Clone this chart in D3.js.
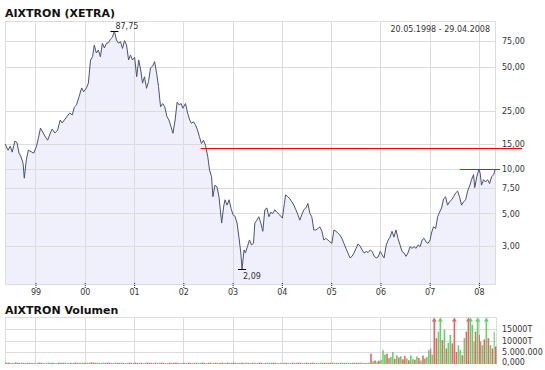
<!DOCTYPE html>
<html>
<head>
<meta charset="utf-8">
<script src="https://cdn.jsdelivr.net/npm/d3@7"></script>
<style>
  body { margin: 0; background: #fff; }
  svg { display: block; font-family: "DejaVu Sans", Verdana, sans-serif; }
  .grid line, .frame { stroke: #dcdcdc; stroke-width: 1; fill: none; shape-rendering: crispEdges; }
  .axis text { font-size: 8px; fill: #333; }
  .title { font-size: 11px; font-weight: bold; fill: #111; }
</style>
</head>
<body>
<div id="chart"></div>
<script>
// *********************************************
// DATA
// *********************************************

var dates = [
  "1998-05-20","1998-06-12","1998-06-28","1998-07-12","1998-08-02","1998-08-17","1998-09-01","1998-09-15","1998-10-01","1998-10-10","1998-10-25","1998-11-09","1998-11-29","1998-12-19",
  "1999-01-08","1999-01-23","1999-02-07","1999-02-27","1999-03-16","1999-04-01","1999-04-21","1999-05-05","1999-05-25","1999-06-14","1999-07-03","1999-07-18","1999-08-03","1999-08-22","1999-09-11","1999-10-01","1999-10-16","1999-11-01","1999-11-20","1999-12-09","1999-12-24",
  "2000-01-14","2000-01-28","2000-02-13","2000-02-28","2000-03-12","2000-03-27","2000-04-11","2000-04-26","2000-05-11","2000-05-26","2000-06-10","2000-06-25","2000-07-09","2000-07-24","2000-08-08","2000-08-23","2000-09-07","2000-09-22","2000-10-07","2000-10-22","2000-11-06","2000-11-21","2000-12-05","2000-12-20",
  "2001-01-05","2001-01-20","2001-02-04","2001-02-19","2001-03-04","2001-03-19","2001-04-03","2001-04-18","2001-05-03","2001-05-18","2001-06-02","2001-06-17","2001-07-01","2001-07-16","2001-08-01","2001-08-16","2001-09-01","2001-09-16","2001-10-01","2001-10-16","2001-11-01","2001-11-16","2001-12-01","2001-12-16","2001-12-28",
  "2002-01-17","2002-02-02","2002-02-17","2002-03-02","2002-03-17","2002-04-01","2002-04-16","2002-04-30","2002-05-15","2002-05-30","2002-06-14","2002-07-01","2002-07-14","2002-07-29","2002-08-08","2002-08-23","2002-09-07","2002-09-22","2002-10-02","2002-10-12","2002-10-27","2002-11-06","2002-11-21","2002-12-06","2002-12-21",
  "2003-01-04","2003-01-18","2003-02-03","2003-02-17","2003-03-03","2003-03-12","2003-03-27","2003-04-06","2003-04-21","2003-05-06","2003-05-21","2003-06-05","2003-06-15","2003-06-30","2003-07-14","2003-07-29","2003-08-13","2003-08-28","2003-09-12","2003-09-27","2003-10-11","2003-10-26","2003-11-10","2003-11-25","2003-12-15",
  "2004-01-05","2004-01-20","2004-01-29","2004-02-14","2004-03-01","2004-03-15","2004-03-30","2004-04-14","2004-04-29","2004-05-13","2004-05-28","2004-06-12","2004-06-27","2004-07-12","2004-07-27","2004-08-10","2004-08-25","2004-09-09","2004-09-24","2004-10-09","2004-10-24","2004-11-07","2004-11-22","2004-12-07","2004-12-22",
  "2005-01-06","2005-01-21","2005-02-05","2005-02-19","2005-03-06","2005-03-21","2005-04-05","2005-04-20","2005-05-05","2005-05-20","2005-06-04","2005-06-19","2005-07-04","2005-07-19","2005-08-03","2005-08-18","2005-09-02","2005-09-17","2005-10-02","2005-10-17","2005-11-01","2005-11-16","2005-12-01","2005-12-14","2005-12-30",
  "2006-01-14","2006-01-28","2006-02-13","2006-02-28","2006-03-13","2006-03-28","2006-04-11","2006-04-26","2006-05-11","2006-05-26","2006-06-10","2006-06-25","2006-07-09","2006-07-24","2006-08-08","2006-08-23","2006-09-07","2006-09-22","2006-10-07","2006-10-22","2006-11-06","2006-11-21","2006-12-05","2006-12-20",
  "2007-01-04","2007-01-14","2007-01-29","2007-02-14","2007-03-01","2007-03-15","2007-03-30","2007-04-14","2007-04-29","2007-05-13","2007-05-28","2007-06-12","2007-06-27","2007-07-12","2007-07-27","2007-08-10","2007-08-25","2007-09-09","2007-09-24","2007-10-09","2007-10-24","2007-11-07","2007-11-22","2007-12-01","2007-12-16",
  "2008-01-01","2008-01-10","2008-01-20","2008-02-04","2008-02-19","2008-03-05","2008-03-20","2008-04-04","2008-04-19","2008-04-29"
];

// closing prices in EUR
var prices = [
  14.9,13.5,14.4,13.1,15.6,15.2,12.9,12.2,11.0,8.7,11.6,13.5,13.2,12.9,
  14.3,16.4,19.1,17.7,16.6,15.8,17.7,18.8,17.7,18.5,21.7,20.7,21.7,22.9,24.2,23.5,26.6,27.5,31.3,35.9,33.8,
  35.9,38.8,55.7,58.6,70.4,62.1,65.1,58.6,72.4,67.2,72.4,73.0,77.0,79.4,87.75,76.2,72.4,74.2,66.8,75.4,70.4,55.7,60.2,55.7,
  58.0,42.8,55.7,47.6,38.7,42.8,35.7,39.7,49.3,50.5,54.3,45.1,36.7,26.7,28.1,26.7,22.9,21.7,19.6,17.6,21.7,28.7,27.5,28.1,26.1,
  28.1,24.1,21.7,20.6,21.1,20.1,18.5,16.7,15.0,15.8,14.6,12.2,9.9,8.9,6.5,7.8,7.6,6.5,5.3,4.3,5.6,6.2,5.7,6.2,5.4,
  4.9,4.8,4.3,3.45,2.69,2.09,2.82,2.69,2.97,3.3,3.05,3.13,4.3,4.5,4.75,4.3,3.78,5.3,5.45,4.75,5.1,5.0,5.3,5.1,4.9,
  4.65,5.85,6.7,6.5,6.3,6.0,5.7,5.3,4.9,4.5,4.9,5.3,5.45,5.85,5.0,4.75,3.86,3.86,3.95,4.05,3.78,3.3,3.38,3.3,3.2,
  3.13,3.86,3.78,3.68,3.57,3.38,3.13,2.89,2.69,2.49,2.55,2.69,2.89,3.1,3.0,2.82,2.69,2.75,2.71,2.82,2.75,2.55,2.49,2.52,2.75,
  2.61,2.49,3.05,3.3,3.45,3.78,3.45,3.86,3.38,3.05,2.75,2.69,2.55,2.69,2.97,2.89,2.97,2.89,3.05,2.97,3.3,3.38,3.2,3.13,
  3.3,3.68,4.05,3.95,4.75,5.1,5.45,6.3,6.5,5.7,6.0,6.2,6.5,6.9,7.1,6.5,5.7,6.0,6.2,7.1,7.7,8.5,9.2,7.5,8.9,
  10.0,9.4,7.8,8.5,8.2,8.5,8.0,8.9,9.2,9.9
];

// traded volume, millions of shares
var volumes = [
  0.5,0.6,0.4,0.5,0.7,0.5,0.4,0.6,0.5,0.5,0.6,0.5,0.4,0.5,
  0.5,0.6,0.5,0.4,0.5,0.6,0.5,0.5,0.4,0.6,0.5,0.5,0.6,0.4,0.5,0.5,0.6,0.5,0.5,0.6,0.5,
  0.6,0.5,0.7,0.6,0.5,0.6,0.5,0.4,0.6,0.5,0.5,0.6,0.5,0.4,0.6,0.5,0.5,0.6,0.5,0.4,0.5,0.6,0.5,0.5,
  0.6,0.5,0.5,0.6,0.4,0.5,0.6,0.5,0.5,0.4,0.6,0.5,0.5,0.6,0.5,0.4,0.5,0.6,0.5,0.5,0.6,0.5,0.4,0.5,0.5,
  0.5,0.6,0.5,0.4,0.5,0.6,0.5,0.5,0.6,0.5,0.4,0.5,0.6,0.5,0.5,0.6,0.5,0.4,0.5,0.6,0.5,0.5,0.6,0.5,0.5,
  0.6,0.5,0.5,0.4,0.6,0.5,0.5,0.6,0.5,0.4,0.5,0.6,0.5,0.5,0.6,0.5,0.4,0.5,0.6,0.5,0.5,0.6,0.5,0.4,0.5,
  0.5,0.6,0.5,0.5,0.4,0.6,0.5,0.5,0.6,0.5,0.4,0.5,0.6,0.5,0.5,0.6,0.5,0.4,0.5,0.6,0.5,0.5,0.6,0.5,0.5,
  0.6,0.5,0.5,0.4,0.6,0.5,0.5,0.6,0.5,0.4,0.5,0.6,0.5,0.5,0.6,0.5,0.4,0.5,0.6,4.4,1.2,1.5,1.0,1.4,1.8,
  5.9,4.0,4.4,2.5,3.0,5.1,2.2,3.7,2.8,3.3,2.0,3.5,2.4,1.6,3.7,2.1,1.8,3.2,2.6,1.5,3.6,2.3,3.0,5.9,
  6.6,4.0,24,11.0,13.8,25,10.2,14.6,6.6,9.0,12.4,8.8,24,5.1,8.0,6.0,3.7,11.0,13.8,23,22,16.7,9.5,13.8,24,
  12.4,9.5,8.0,10.5,23,11.0,8.0,6.6,13.8,7.5
];

// session direction shown by the volume bar colour (1 = up, 0 = down)
var volUp = [
  0,0,1,1,0,0,0,1,0,1,1,0,0,1,
  1,0,0,1,1,1,0,0,1,0,0,0,1,1,0,1,0,0,1,1,0,
  1,1,0,0,0,1,1,0,1,0,0,0,1,1,1,0,0,1,0,1,1,0,0,1,
  0,0,1,0,1,1,0,0,0,1,0,1,1,0,0,1,1,0,1,0,0,0,1,1,0,
  1,0,0,1,0,1,1,1,0,0,1,0,0,1,1,0,1,0,0,0,1,1,0,1,0,
  0,1,1,0,0,0,1,1,0,1,0,0,1,1,0,0,1,0,1,1,0,0,0,1,1,
  1,0,0,1,1,0,1,0,0,0,1,1,0,1,0,0,1,0,1,1,0,0,1,0,0,
  1,1,0,0,1,0,0,1,1,0,0,1,0,0,1,1,0,1,1,0,1,0,1,0,1,
  1,1,0,0,1,1,0,1,0,1,0,0,1,0,1,1,0,1,0,1,0,0,1,1,
  0,1,0,0,1,1,0,1,0,1,1,0,0,0,1,1,0,1,0,0,1,1,0,0,1,
  0,0,1,0,1,0,1,0,1,0
];

var yearTicks = ["1999-01-01","2000-01-01","2001-01-01","2002-01-01","2003-01-01","2004-01-01","2005-01-01","2006-01-01","2007-01-01","2008-01-01"];
var priceTicks = [75, 50, 25, 15, 10, 7.5, 5, 3];
var priceTickLabels = ["75,00","50,00","25,00","15,00","10,00","7,50","5,00","3,00"];
var volTicks = [0, 5, 10, 15];
var volTickLabels = ["0,000","5.000.000","10000T","15000T"];
var levelValues = [14, 10];
var levelStarts = ["2002-05-10", "2007-08-14"];
var dateRange = "20.05.1998 - 29.04.2008";

// *********************************************
// SETUP
// *********************************************

var width = 545, height = 370;
var parse = d3.timeParse("%Y-%m-%d");
var data = dates.map(function(d, i) {
  return {date: parse(d), value: prices[i], vol: volumes[i], up: volUp[i] == 1};
});

var svg = d3.select("#chart").append("svg")
  .attr("width", width)
  .attr("height", height);

var plot = {left: 5, right: 495, top: 21, bottom: 284};
var vplot = {top: 317, bottom: 364};
var green = "#66d066", red = "#e06868";

var x = d3.scaleTime()
  .domain([parse("1998-05-20"), parse("2008-04-29")])
  .range([plot.left, plot.right]);

var y = d3.scaleLog()
  .domain([1.652, 102.7])
  .range([plot.bottom, plot.top]);

var yv = d3.scaleLinear()
  .domain([0, 20])
  .range([vplot.bottom, vplot.top]);

// titles
svg.append("text").attr("class", "title").attr("x", 5).attr("y", 16.5).text("AIXTRON (XETRA)");
svg.append("text").attr("class", "title").attr("x", 5).attr("y", 314).text("AIXTRON Volumen");

// *********************************************
// PRICE PANEL
// *********************************************

var area = d3.area()
  .x(d => x(d.date))
  .y0(plot.bottom)
  .y1(d => y(d.value));

svg.append("path")
  .datum(data)
  .attr("d", area)
  .attr("fill", "#f0f0fc");

var grid = svg.append("g").attr("class", "grid");
grid.selectAll("line.v")
  .data(yearTicks).enter().append("line")
  .attr("x1", d => Math.round(x(parse(d))) + 0.5)
  .attr("x2", d => Math.round(x(parse(d))) + 0.5)
  .attr("y1", plot.top).attr("y2", plot.bottom);
grid.selectAll("line.h")
  .data(priceTicks).enter().append("line")
  .attr("x1", plot.left).attr("x2", plot.right)
  .attr("y1", d => Math.round(y(d)) + 0.5)
  .attr("y2", d => Math.round(y(d)) + 0.5);

svg.append("rect").attr("class", "frame")
  .attr("x", plot.left + 0.5).attr("y", plot.top + 0.5)
  .attr("width", plot.right - plot.left).attr("height", plot.bottom - plot.top);

svg.append("text")
  .attr("x", 490).attr("y", 32)
  .attr("text-anchor", "end")
  .style("font-size", "8px").style("fill", "#333")
  .text(dateRange);

// horizontal level lines
svg.selectAll("line.level")
  .data(levelValues).enter().append("line")
  .attr("class", "level")
  .attr("x1", (d, i) => x(parse(levelStarts[i])))
  .attr("x2", plot.right + 27)
  .attr("y1", d => Math.round(y(d)) + 0.5)
  .attr("y2", d => Math.round(y(d)) + 0.5)
  .style("stroke", "#ff0000")
  .style("stroke-width", 1.2);

// price line
var line = d3.line()
  .x(d => x(d.date))
  .y(d => y(d.value));

svg.append("path")
  .datum(data)
  .attr("d", line)
  .attr("fill", "none")
  .attr("stroke", "#4b5272")
  .attr("stroke-width", 1)
  .attr("stroke-linejoin", "round");

// max / min markers
var fmt = v => d3.format(".2f")(v).replace(".", ",");
var iMax = d3.maxIndex(data, d => d.value), iMin = d3.minIndex(data, d => d.value);
[[data[iMax], -1], [data[iMin], 1]].forEach(function(m) {
  var px = x(m[0].date), py = Math.round(y(m[0].value)) + 0.5;
  svg.append("line")
    .attr("x1", px - 4).attr("x2", px + 4)
    .attr("y1", py).attr("y2", py)
    .style("stroke", "#000");
  svg.append("text")
    .attr("x", px + 1)
    .attr("y", m[1] < 0 ? py - 2.5 : py + 9)
    .style("font-size", "8px").style("fill", "#333")
    .text(fmt(m[0].value));
});

// x axis
var xAxis = svg.append("g").attr("class", "axis")
  .attr("transform", "translate(0," + (plot.bottom - 1) + ")")
  .call(d3.axisBottom(x)
    .tickValues(yearTicks.map(parse))
    .tickFormat(d3.timeFormat("%y"))
    .tickSize(5)
    .tickPadding(1));
xAxis.select(".domain").remove();
xAxis.selectAll(".tick line").style("stroke", "#222").style("stroke-dasharray", "1,1");
xAxis.selectAll("text").style("font-family", "DejaVu Sans");

// y axis
var yAxis = svg.append("g").attr("class", "axis")
  .attr("transform", "translate(" + plot.right + ",0)")
  .call(d3.axisRight(y)
    .tickValues(priceTicks)
    .tickFormat((d, i) => priceTickLabels[i])
    .tickSize(0)
    .tickPadding(7));
yAxis.select(".domain").remove();
yAxis.selectAll(".tick").insert("rect", "text")
  .attr("x", 5).attr("y", -3.5).attr("width", 34).attr("height", 7)
  .attr("fill", "#fff");
yAxis.selectAll("text").style("font-family", "DejaVu Sans");

// *********************************************
// VOLUME PANEL
// *********************************************

var vgrid = svg.append("g").attr("class", "grid");
vgrid.selectAll("line.v")
  .data(yearTicks).enter().append("line")
  .attr("x1", d => Math.round(x(parse(d))) + 0.5)
  .attr("x2", d => Math.round(x(parse(d))) + 0.5)
  .attr("y1", vplot.top).attr("y2", vplot.bottom);
vgrid.selectAll("line.h")
  .data(volTicks.slice(1)).enter().append("line")
  .attr("x1", plot.left).attr("x2", plot.right + 1)
  .attr("y1", d => Math.round(yv(d)) + 0.5)
  .attr("y2", d => Math.round(yv(d)) + 0.5);
svg.append("path").attr("class", "frame")
  .attr("d", "M" + (plot.left + 0.5) + "," + vplot.bottom + "V" + (vplot.top + 0.5) + "H" + (plot.right + 1.5) + "V" + vplot.bottom);

var cap = vplot.top + 4;
var barW = function(d, i) {
  return i < data.length - 1 ? Math.max(1, 0.8 * (x(data[i + 1].date) - x(d.date))) : 1.5;
};
var bars = svg.append("g");
bars.selectAll("rect")
  .data(data).enter().append("rect")
  .attr("x", d => x(d.date))
  .attr("width", barW)
  .attr("y", d => Math.max(cap, yv(d.vol)))
  .attr("height", d => vplot.bottom - Math.max(cap, yv(d.vol)))
  .attr("fill", d => d.up ? green : red);

// arrows for bars that go off the top
bars.selectAll("path")
  .data(data.filter(d => yv(d.vol) < cap)).enter().append("path")
  .attr("d", function(d) {
    var cx = x(d.date) + 0.8;
    return "M" + (cx - 2.5) + "," + (cap + 0.5) + "L" + cx + "," + (vplot.top + 0.5) + "L" + (cx + 2.5) + "," + (cap + 0.5) + "Z";
  })
  .attr("fill", d => d.up ? green : red);

var vAxis = svg.append("g").attr("class", "axis")
  .attr("transform", "translate(" + plot.right + ",0)")
  .call(d3.axisRight(yv)
    .tickValues(volTicks)
    .tickFormat((d, i) => volTickLabels[i])
    .tickSize(0)
    .tickPadding(7));
vAxis.select(".domain").remove();
vAxis.selectAll(".tick").attr("transform", d => "translate(0," + (d == 0 ? yv(d) - 1.5 : Math.round(yv(d)) + 0.5) + ")");
vAxis.selectAll("text").style("font-family", "DejaVu Sans");
</script>
</body>
</html>
